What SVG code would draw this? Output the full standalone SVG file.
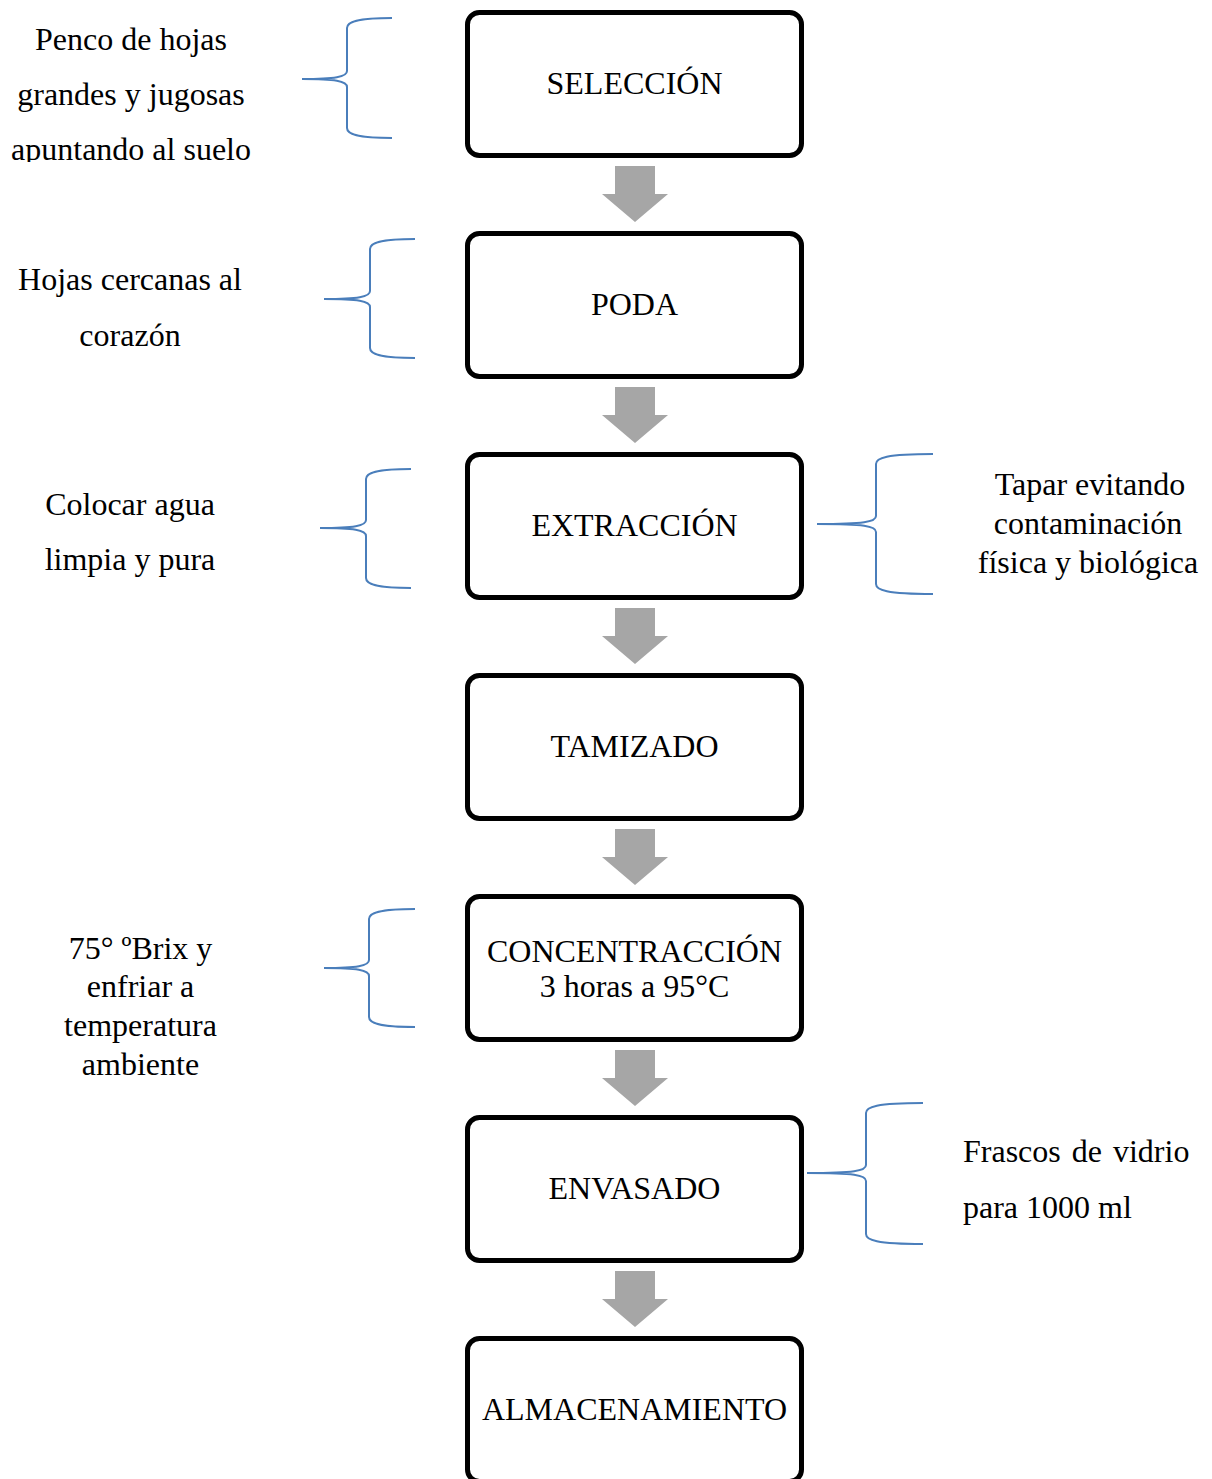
<svg xmlns="http://www.w3.org/2000/svg" xmlns:xlink="http://www.w3.org/1999/xlink" width="1212" height="1479" viewBox="0 0 1212 1479">
  <style>
    .box { fill: #ffffff; stroke: #000000; stroke-width: 5; }
    .lbl { font-family: "Liberation Serif", "Times New Roman", serif; font-size: 32px; fill: #000000; }
    .mid { text-anchor: middle; }
    .brace { fill: none; stroke: #4a7ebb; stroke-width: 2; }
    .flow { fill: #a6a6a6; }
  </style>
  <defs>
    <polygon id="down-arrow" class="flow" points="615,166 655,166 655,194 668,194 635,222 602,194 615,194"/>
    <clipPath id="clip-note1">
      <rect x="0" y="0" width="300" height="162"/>
    </clipPath>
  </defs>
  <rect width="1212" height="1479" fill="#ffffff"/>

  <!-- flow arrows between steps -->
  <g id="connectors">
    <use xlink:href="#down-arrow"/>
    <use xlink:href="#down-arrow" transform="translate(0,221)"/>
    <use xlink:href="#down-arrow" transform="translate(0,442)"/>
    <use xlink:href="#down-arrow" transform="translate(0,663)"/>
    <use xlink:href="#down-arrow" transform="translate(0,884)"/>
    <use xlink:href="#down-arrow" transform="translate(0,1105)"/>
  </g>

  <!-- process steps -->
  <g id="step-seleccion">
    <rect class="box" x="467.5" y="12.5" width="334" height="143" rx="12"/>
    <text class="lbl mid" x="634.5" y="94">SELECCIÓN</text>
  </g>
  <g id="step-poda">
    <rect class="box" x="467.5" y="233.5" width="334" height="143" rx="12"/>
    <text class="lbl mid" x="634.5" y="315">PODA</text>
  </g>
  <g id="step-extraccion">
    <rect class="box" x="467.5" y="454.5" width="334" height="143" rx="12"/>
    <text class="lbl mid" x="634.5" y="536">EXTRACCIÓN</text>
  </g>
  <g id="step-tamizado">
    <rect class="box" x="467.5" y="675.5" width="334" height="143" rx="12"/>
    <text class="lbl mid" x="634.5" y="757">TAMIZADO</text>
  </g>
  <g id="step-concentraccion">
    <rect class="box" x="467.5" y="896.5" width="334" height="143" rx="12"/>
    <text class="lbl mid" x="634.5" y="962">CONCENTRACCIÓN</text>
    <text class="lbl mid" x="634.5" y="997">3 horas a 95°C</text>
  </g>
  <g id="step-envasado">
    <rect class="box" x="467.5" y="1117.5" width="334" height="143" rx="12"/>
    <text class="lbl mid" x="634.5" y="1199">ENVASADO</text>
  </g>
  <g id="step-almacenamiento">
    <rect class="box" x="467.5" y="1338.5" width="334" height="143" rx="12"/>
    <text class="lbl mid" x="634.5" y="1420">ALMACENAMIENTO</text>
  </g>

  <!-- side notes with curly braces -->
  <g id="note-seleccion">
    <path class="brace" d="M392,18 C357,18 347,22 347,28 L347,71 C347,77 335,79 302,79 C335,79 347,81 347,87 L347,128 C347,134 357,138 392,138"/>
    <g clip-path="url(#clip-note1)">
      <text class="lbl mid" x="131" y="50">Penco de hojas</text>
      <text class="lbl mid" x="131" y="105">grandes y jugosas</text>
      <text class="lbl mid" x="131" y="160">apuntando al suelo</text>
    </g>
  </g>
  <g id="note-poda">
    <path class="brace" d="M415,239 C380,239 370,243 370,249 L370,291 C370,297 358,299 324,299 C358,299 370,301 370,307 L370,348 C370,354 380,358 415,358"/>
    <text class="lbl mid" x="130" y="290">Hojas cercanas al</text>
    <text class="lbl mid" x="130" y="346">corazón</text>
  </g>
  <g id="note-extraccion-left">
    <path class="brace" d="M411,469 C376,469 366,473 366,479 L366,520 C366,526 354,528 320,528 C354,528 366,530 366,536 L366,578 C366,584 376,588 411,588"/>
    <text class="lbl mid" x="130" y="515">Colocar agua</text>
    <text class="lbl mid" x="130" y="570">limpia y pura</text>
  </g>
  <g id="note-extraccion-right">
    <path class="brace" d="M933,454 C886,454 876,458 876,464 L876,516 C876,522 864,524 817,524 C864,524 876,526 876,532 L876,584 C876,590 886,594 933,594"/>
    <text class="lbl mid" x="1090" y="495">Tapar evitando</text>
    <text class="lbl mid" x="1088" y="534">contaminación</text>
    <text class="lbl mid" x="1088" y="573">física y biológica</text>
  </g>
  <g id="note-concentraccion">
    <path class="brace" d="M415,909 C379,909 369,913 369,919 L369,960 C369,966 357,968 324,968 C357,968 369,970 369,976 L369,1017 C369,1023 379,1027 415,1027"/>
    <text class="lbl mid" x="140.5" y="959">75° ºBrix y</text>
    <text class="lbl mid" x="140.5" y="997">enfriar a</text>
    <text class="lbl mid" x="140.5" y="1036">temperatura</text>
    <text class="lbl mid" x="140.5" y="1075">ambiente</text>
  </g>
  <g id="note-envasado">
    <path class="brace" d="M923,1103 C876,1103 866,1107 866,1113 L866,1165 C866,1171 854,1173 807,1173 C854,1173 866,1175 866,1181 L866,1234 C866,1240 876,1244 923,1244"/>
    <text class="lbl" x="963" y="1162" word-spacing="3">Frascos de vidrio</text>
    <text class="lbl" x="963" y="1218">para 1000 ml</text>
  </g>
</svg>
